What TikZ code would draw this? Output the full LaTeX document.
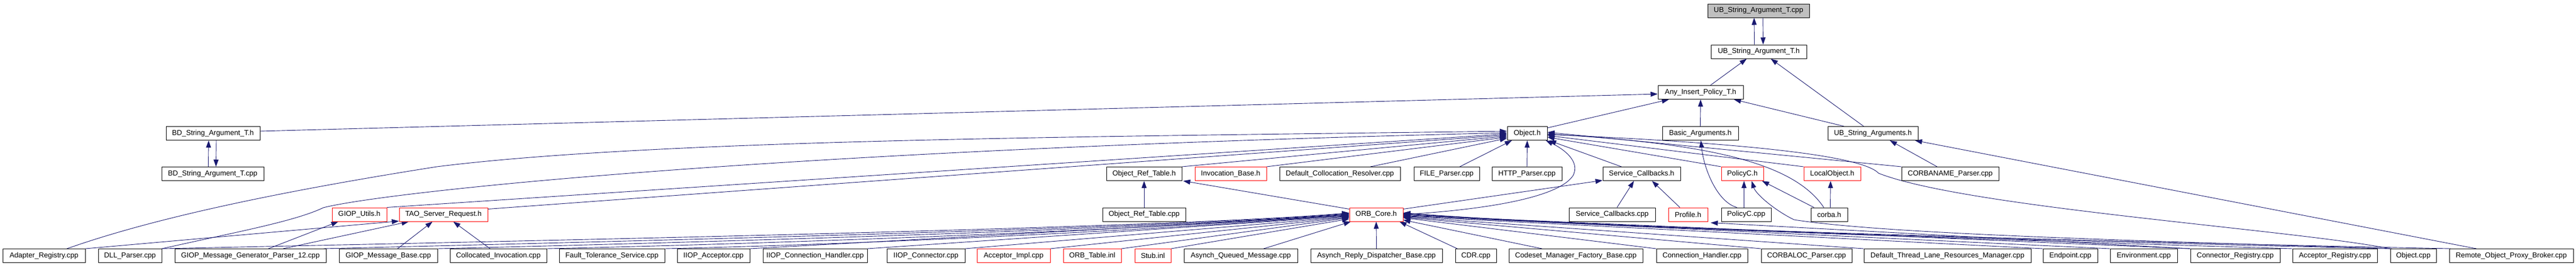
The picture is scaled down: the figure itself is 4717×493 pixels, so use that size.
\documentclass[tikz,border=0pt]{standalone}
\usepackage{fontspec}
\setmainfont{Liberation Sans}
\usetikzlibrary{arrows.meta}
\pgfdeclarelayer{background}
\pgfsetlayers{background,main}
\definecolor{edgeblue}{RGB}{25,25,112}
\definecolor{rootgrey}{RGB}{191,191,191}
\begin{document}
\begin{tikzpicture}[x=1pt,y=-1pt,
  box/.style={draw=black,line width=1pt,fill=white,minimum height=25pt,inner sep=0pt,
     font=\fontsize{13.2}{15}\selectfont,text=black},
  redbox/.style={box,draw=red},
  rootbox/.style={box,fill=rootgrey},
  edge/.style={draw=edgeblue,line width=0.9pt,-{Triangle[length=13pt,width=9pt]}}]
\useasboundingbox (0,0) rectangle (4717,493);

% top and upper rows
\node[rootbox,minimum width=186pt] (n1) at (3220,19.5) {UB\_String\_Argument\_T.cpp};
\node[box,minimum width=175pt] (n2) at (3220.5,94.5) {UB\_String\_Argument\_T.h};
\node[box,minimum width=156pt] (n3) at (3114,169) {Any\_Insert\_Policy\_T.h};
\node[box,minimum width=172pt] (n4) at (390,244) {BD\_String\_Argument\_T.h};
\node[box,minimum width=73pt] (n5) at (2796.5,244) {Object.h};
\node[box,minimum width=139pt] (n6) at (3113.5,244) {Basic\_Arguments.h};
\node[box,minimum width=165pt] (n7) at (3429.5,244) {UB\_String\_Arguments.h};
\node[box,minimum width=187pt] (n8) at (389.5,318) {BD\_String\_Argument\_T.cpp};
\node[box,minimum width=138pt] (n9) at (2095,318) {Object\_Ref\_Table.h};
\node[redbox,minimum width=131pt] (n10) at (2253.5,318) {Invocation\_Base.h};
\node[box,minimum width=221pt] (n11) at (2453.5,318) {Default\_Collocation\_Resolver.cpp};
\node[box,minimum width=120pt] (n12) at (2649,318) {FILE\_Parser.cpp};
\node[box,minimum width=128pt] (n13) at (2796,318) {HTTP\_Parser.cpp};
\node[box,minimum width=142pt] (n14) at (3006,318) {Service\_Callbacks.h};
\node[redbox,minimum width=77pt] (n15) at (3190.5,318) {PolicyC.h};
\node[redbox,minimum width=104pt] (n16) at (3355,318) {LocalObject.h};
\node[box,minimum width=178pt] (n17) at (3571,318) {CORBANAME\_Parser.cpp};
\node[redbox,minimum width=100pt] (n18) at (658,392.5) {GIOP\_Utils.h};
\node[redbox,minimum width=162pt] (n19) at (812,392.5) {TAO\_Server\_Request.h};
\node[box,minimum width=152pt] (n20) at (2095,392.5) {Object\_Ref\_Table.cpp};
\node[redbox,minimum width=98pt] (n21) at (2520,392.5) {ORB\_Core.h};
\node[box,minimum width=158pt] (n22) at (2952,392.5) {Service\_Callbacks.cpp};
\node[redbox,minimum width=72pt] (n23) at (3091,392.5) {Profile.h};
\node[box,minimum width=91pt] (n24) at (3197.5,392.5) {PolicyC.cpp};
\node[box,minimum width=67pt] (n25) at (3349.5,392.5) {corba.h};

% bottom row
\node[box,minimum width=151pt] (b1) at (80.5,468) {Adapter\_Registry.cpp};
\node[box,minimum width=116pt] (b2) at (238,468) {DLL\_Parser.cpp};
\node[box,minimum width=277pt] (b3) at (458.5,468) {GIOP\_Message\_Generator\_Parser\_12.cpp};
\node[box,minimum width=180pt] (b4) at (711,468) {GIOP\_Message\_Base.cpp};
\node[box,minimum width=177pt] (b5) at (912.5,468) {Collocated\_Invocation.cpp};
\node[box,minimum width=193pt] (b6) at (1120.5,468) {Fault\_Tolerance\_Service.cpp};
\node[box,minimum width=133pt] (b7) at (1306.5,468) {IIOP\_Acceptor.cpp};
\node[box,minimum width=191pt] (b8) at (1492.5,468) {IIOP\_Connection\_Handler.cpp};
\node[box,minimum width=143pt] (b9) at (1695.5,468) {IIOP\_Connector.cpp};
\node[redbox,minimum width=134pt] (b10) at (1856,468) {Acceptor\_Impl.cpp};
\node[redbox,minimum width=106pt] (b11) at (2000,468) {ORB\_Table.inl};
\node[redbox,minimum width=66pt] (b12) at (2111,468) {Stub.inl};
\node[box,minimum width=208pt] (b13) at (2272,468) {Asynch\_Queued\_Message.cpp};
\node[box,minimum width=241pt] (b14) at (2520.5,468) {Asynch\_Reply\_Dispatcher\_Base.cpp};
\node[box,minimum width=75pt] (b15) at (2702.5,468) {CDR.cpp};
\node[box,minimum width=245pt] (b16) at (2885.5,468) {Codeset\_Manager\_Factory\_Base.cpp};
\node[box,minimum width=167pt] (b17) at (3116.5,468) {Connection\_Handler.cpp};
\node[box,minimum width=166pt] (b18) at (3308,468) {CORBALOC\_Parser.cpp};
\node[box,minimum width=306pt] (b19) at (3566,468) {Default\_Thread\_Lane\_Resources\_Manager.cpp};
\node[box,minimum width=100pt] (b20) at (3791,468) {Endpoint.cpp};
\node[box,minimum width=123pt] (b21) at (3925.5,468) {Environment.cpp};
\node[box,minimum width=164pt] (b22) at (4093,468) {Connector\_Registry.cpp};
\node[box,minimum width=155pt] (b23) at (4275.5,468) {Acceptor\_Registry.cpp};
\node[box,minimum width=84pt] (b24) at (4419,468) {Object.cpp};
\node[box,minimum width=227pt] (b25) at (4598.5,468) {Remote\_Object\_Proxy\_Broker.cpp};

\begin{pgfonlayer}{background}
% top cluster
\draw[edge] ([xshift=-8pt]n2.north) -- ([xshift=-8pt]n1.south);
\draw[edge] ([xshift=8pt]n1.south) -- ([xshift=8pt]n2.north);
\draw[edge] ([xshift=18pt]n3.north) -- ([xshift=-22pt]n2.south);
\draw[edge] ([xshift=-17pt]n7.north) -- ([xshift=22pt]n2.south);
\draw[edge] ([yshift=4pt]n4.east) -- ([yshift=-3pt]n3.west);
\draw[edge] ([yshift=-3pt]n5.north east) -- ([xshift=-58pt]n3.south);
\draw[edge] (n6.north) -- (n3.south);
\draw[edge] ([xshift=-53pt]n7.north) -- ([xshift=61pt]n3.south);
\draw[edge] ([xshift=-8pt]n8.north) -- ([xshift=-8pt]n4.south);
\draw[edge] ([xshift=6pt]n4.south) -- ([xshift=6pt]n8.north);

% into Object.h from the left
\draw[edge] ([xshift=42pt]b1.north) .. controls (250,410) and (450,360) .. (800,305)
            .. controls (1200,255) and (2000,250) .. ([yshift=4pt]n5.west);
\draw[edge] (b2.north east) .. controls (430,425) and (540,405) .. (592,380)
            .. controls (700,352) and (1400,275) .. ([yshift=1pt]n5.west);
\draw[edge] (n18.north east) -- ([yshift=-1pt]n5.west);
\draw[edge] ([yshift=-3pt]n19.north east) -- ([yshift=-3pt]n5.west);
\draw[edge] (n9.north east) -- ([yshift=-5pt]n5.west);
\draw[edge] (n10.north east) -- ([yshift=-7pt]n5.west);
\draw[edge] ([xshift=56pt]n11.north) -- ([yshift=-9pt]n5.west);
\draw[edge] ([xshift=24pt]n12.north) -- ([xshift=9pt]n5.south west);
\draw[edge] (n13.north) -- (n5.south);
\draw[edge] ([xshift=-37pt]n14.north) -- ([xshift=3pt]n5.south east);

% into Object.h from the right
\draw[edge] (n15.north west) -- ([yshift=-7pt]n5.east);
\draw[edge] (n16.north west) -- ([yshift=-4pt]n5.east);
\draw[edge] (n17.north west) -- ([yshift=2pt]n5.east);
\draw[edge] ([xshift=-10pt]n25.north) .. controls (3280,290) and (3100,262) .. ([yshift=-1pt]n5.east);
\draw[edge] (b24.north west) .. controls (4200,420) and (3600,380) .. (3440,317)
            .. controls (3410,285) and (3200,262) .. ([yshift=-2pt]n5.east);
\draw[edge] (n21.east) .. controls (2700,385) and (2850,365) .. (2880,322)
            .. controls (2895,295) and (2862,272) .. ([xshift=-3pt]n5.south east);

% PolicyC, corba, LocalObject, Basic_Arguments
\draw[edge] ([xshift=4pt]b24.north west) .. controls (3900,440) and (3450,428) .. (3285,402)
            .. controls (3250,385) and (3215,355) .. ([xshift=17pt]n15.south);
\draw[edge] ([xshift=-4pt]n24.north) -- ([xshift=3pt]n15.south);
\draw[edge] ([xshift=-28pt]n25.north) -- ([xshift=36pt]n15.south);
\draw[edge] ([xshift=2pt]n25.north) -- ([xshift=-3pt]n16.south);
\draw[edge] ([xshift=-17pt]n24.north) .. controls (3145,370) and (3120,310) .. ([xshift=1pt]n6.south);

% Service_Callbacks, Object_Ref_Table
\draw[edge] ([xshift=9pt]n22.north) -- ([xshift=-14pt]n14.south);
\draw[edge] ([xshift=-15pt]n23.north) -- ([xshift=19pt]n14.south);
\draw[edge] ([yshift=-3pt]n21.north east) -- ([yshift=1pt]n14.south west);
\draw[edge] ([yshift=-3pt]n21.north west) -- ([xshift=2pt]n9.south east);
\draw[edge] (n20.north) -- (n9.south);

% UB_String_Arguments.h, Profile.h
\draw[edge] ([xshift=-24pt]n17.north) -- ([xshift=31pt]n7.south);
\draw[edge] ([xshift=-64pt]b25.north) -- ([xshift=77pt]n7.south);
\draw[edge] (b22.north west) -- ([xshift=5pt,yshift=-2pt]n23.south east);

% GIOP_Utils.h, TAO_Server_Request.h
\draw[edge] (b1.north east) -- ([yshift=1pt]n19.south west);
\draw[edge] ([xshift=33pt]b3.north) -- ([xshift=12pt]n18.south west);
\draw[edge] ([xshift=60pt]b3.north) -- ([xshift=18pt]n19.south west);
\draw[edge] ([xshift=17pt]b4.north) -- ([xshift=-20pt]n19.south);
\draw[edge] ([xshift=-15pt]b5.north) -- ([xshift=18pt]n19.south);

% into ORB_Core.h from the left
\draw[edge] (b2.north east) .. controls (1000,440) and (2150,417) .. ([yshift=3pt]n21.west);
\draw[edge] ([xshift=-5pt]b3.north east) .. controls (1200,440) and (2150,417) .. ([yshift=2pt]n21.west);
\draw[edge] (b4.north east) .. controls (1350,442) and (2150,417) .. ([yshift=1pt]n21.west);
\draw[edge] (b5.north east) .. controls (1500,444) and (2150,417) .. (n21.west);
\draw[edge] (b6.north east) .. controls (1650,445) and (2150,418) .. ([yshift=-1pt]n21.west);
\draw[edge] (b7.north east) -- ([yshift=-2pt]n21.west);
\draw[edge] (b8.north east) -- ([yshift=-3pt]n21.west);
\draw[edge] (b9.north east) -- ([yshift=-4pt]n21.west);
\draw[edge] (b10.north east) -- ([yshift=-5pt]n21.west);
\draw[edge] (b11.north east) -- ([yshift=-6pt]n21.west);
\draw[edge] (b12.north east) -- ([yshift=-8pt]n21.west);
\draw[edge] ([xshift=42pt]b13.north) -- ([xshift=3pt]n21.south west);
\draw[edge] (b14.north) -- (n21.south);
\draw[edge] ([xshift=-34pt]b15.north) -- ([xshift=-7pt]n21.south east);
\draw[edge] ([xshift=-62pt]b16.north) -- ([yshift=3pt]n21.south east);

% into ORB_Core.h from the right
\draw[edge] (b17.north west) -- ([yshift=-6pt]n21.east);
\draw[edge] (b18.north west) -- ([yshift=-5pt]n21.east);
\draw[edge] (b19.north west) -- ([yshift=-4pt]n21.east);
\draw[edge] (b20.north west) -- ([yshift=-3pt]n21.east);
\draw[edge] (b21.north west) -- ([yshift=-2pt]n21.east);
\draw[edge] (b22.north west) -- ([yshift=-1pt]n21.east);
\draw[edge] (b23.north west) .. controls (3700,440) and (2950,417) .. ([yshift=1pt]n21.east);
\draw[edge] (b24.north west) .. controls (3800,442) and (2950,418) .. ([yshift=2pt]n21.east);
\draw[edge] ([xshift=3pt]b25.north west) .. controls (3900,443) and (2950,419) .. ([yshift=3pt]n21.east);
\end{pgfonlayer}
\end{tikzpicture}
\end{document}
